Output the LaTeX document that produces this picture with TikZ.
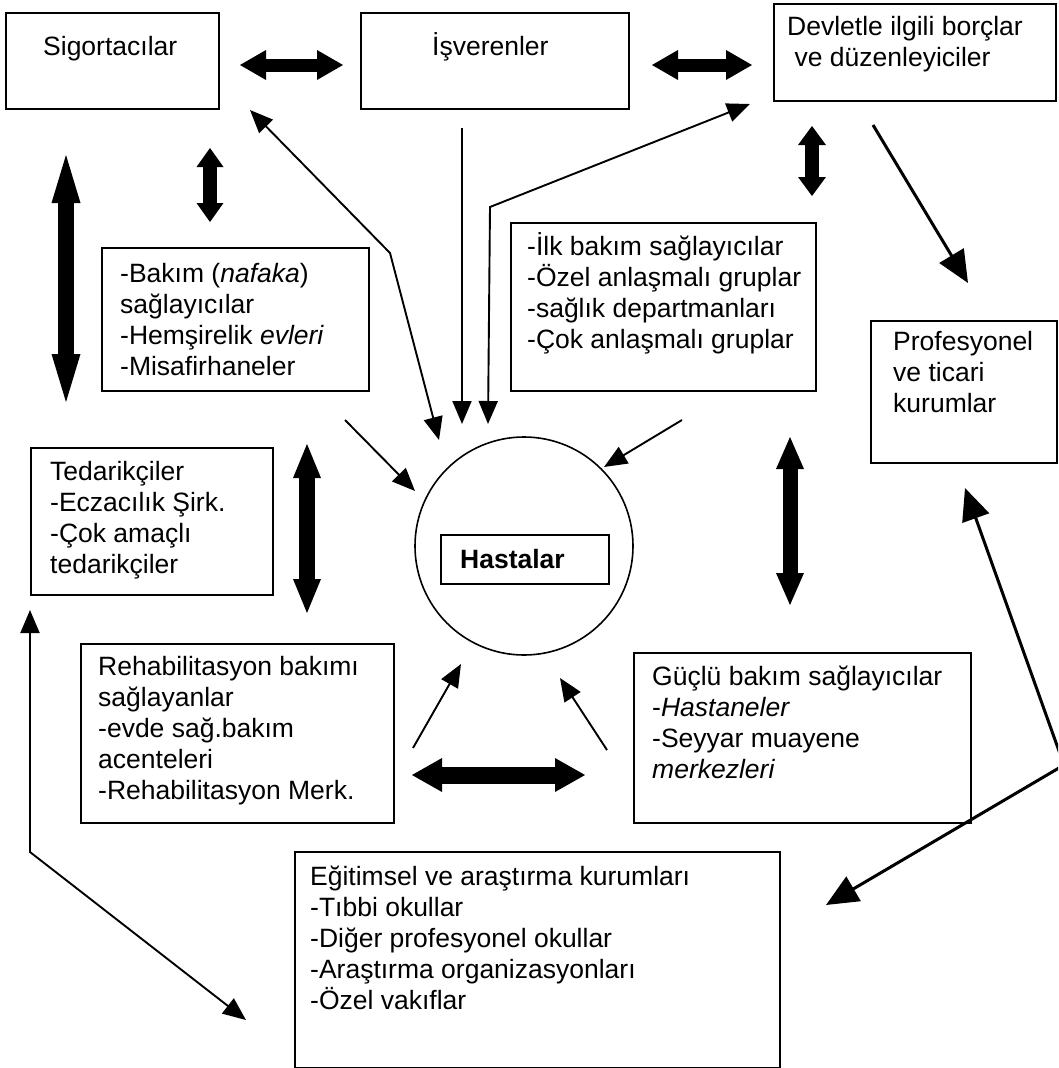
\documentclass[tikz,border=0pt]{standalone}
\usepackage{fontspec}
\setmainfont{Liberation Sans}
\usetikzlibrary{arrows.meta,calc}
% strut that fixes the first baseline 25pt below the top of a text block
\newcommand\firstline{\rule{0pt}{25pt}}
\begin{document}
\begin{tikzpicture}[x=1pt,y=-1pt,
  box/.style={draw, line width=1.7pt, anchor=north west, inner sep=0pt},
  txt/.style={anchor=north west, inner sep=0pt, align=left,
              font=\fontsize{26.5}{31}\selectfont},
  % thick two-headed block arrow: shaft width, head length, head width
  block/.style n args={3}{line width=#1,
      arrows={Triangle[length=#2,width=#3,line width=0pt]-Triangle[length=#2,width=#3,line width=0pt]}},
  thin/.style={line width=1.9pt, -{Triangle[length=23pt,width=19pt]}},
  thinboth/.style={line width=1.9pt,
      {Triangle[length=23pt,width=19pt]}-{Triangle[length=23pt,width=19pt]}},
  heavy/.style={line width=3pt, -{Triangle[length=32pt,width=28pt]}},
  heavyboth/.style={line width=3pt,
      {Triangle[length=32pt,width=28pt]}-{Triangle[length=32pt,width=28pt]}},
]
\useasboundingbox (0,0) rectangle (1058,1068);
\clip (0,0) rectangle (1058,1068);

% ---- boxes ----
\node[box, minimum width=213pt, minimum height=96pt]  (sig)  at (5,12)    {};
\node[box, minimum width=268pt, minimum height=96pt]  (isv)  at (360,12)  {};
\node[box, minimum width=282pt, minimum height=97pt]  (dev)  at (773,3)   {};
\node[box, minimum width=267pt, minimum height=143pt] (bak)  at (101,247) {};
\node[box, minimum width=305pt, minimum height=168pt] (ilk)  at (510,222) {};
\node[box, minimum width=186pt, minimum height=142pt] (prof) at (870,320) {};
\node[box, minimum width=242pt, minimum height=147pt] (ted)  at (30,447)  {};
\node[box, minimum width=313pt, minimum height=179pt] (reh)  at (80,643)  {};
\node[box, minimum width=337pt, minimum height=170pt] (guc)  at (633,652) {};
\node[box, minimum width=485pt, minimum height=216pt] (egi)  at (294,851) {};

% ---- patients in the centre ----
\node[draw, circle, line width=1.6pt, minimum size=218pt, inner sep=0pt] (pat) at (524,546) {};
\node[box, minimum width=168pt, minimum height=49pt] (has) at (440,534) {};

% ---- texts ----
\node[txt] (tsig)  at (43,30)   {\firstline Sigortacılar};
\node[txt] (tisv)  at (432,30)  {\firstline İşverenler};
\node[txt] (tdev)  at (787,10)  {\firstline Devletle ilgili borçlar\\\hspace*{0.28em}ve düzenleyiciler};
\node[txt] (tbak)  at (120,257) {\firstline -Bakım (\textit{nafaka})\\sağlayıcılar\\-Hemşirelik \textit{evleri}\\-Misafirhaneler};
\node[txt] (tilk)  at (527,230) {\firstline -İlk bakım sağlayıcılar\\-Özel anlaşmalı gruplar\\-sağlık departmanları\\-Çok anlaşmalı gruplar};
\node[txt] (tprof) at (893,325) {\firstline Profesyonel\\ve ticari\\kurumlar};
\node[txt] (tted)  at (50,455)  {\firstline Tedarikçiler\\-Eczacılık Şirk.\\-Çok amaçlı\\tedarikçiler};
\node[txt] (treh)  at (98,650)  {\firstline Rehabilitasyon bakımı\\sağlayanlar\\-evde sağ.bakım\\acenteleri\\-Rehabilitasyon Merk.};
\node[txt] (tguc)  at (652,660) {\firstline Güçlü bakım sağlayıcılar\\-\textit{Hastaneler}\\-Seyyar muayene\\\textit{merkezleri}};
\node[txt] (tegi)  at (310,860) {\firstline Eğitimsel ve araştırma kurumları\\-Tıbbi okullar\\-Diğer profesyonel okullar\\-Araştırma organizasyonları\\-Özel vakıflar};
\node[txt, font=\fontsize{26.5}{31}\selectfont\bfseries] (thas) at (460,543) {\firstline Hastalar};

% ---- connector end points ----
\coordinate (a1l) at (240,65);   \coordinate (a1r) at (343,65);
\coordinate (a2l) at (652,65);   \coordinate (a2r) at (752,65);
\coordinate (a3t) at (66,155);   \coordinate (a3b) at (66,402);
\coordinate (a4t) at (210,148);  \coordinate (a4b) at (210,222);
\coordinate (a5t) at (812,126);  \coordinate (a5b) at (812,196);
\coordinate (a6t) at (307,444);  \coordinate (a6b) at (307,613);
\coordinate (a7t) at (790,437);  \coordinate (a7b) at (790,605);
\coordinate (a8l) at (412,775);  \coordinate (a8r) at (585,775);

\coordinate (s1) at (250,110);  \coordinate (s1m) at (390,253); \coordinate (s1e) at (439,440);
\coordinate (e1) at (462,128);  \coordinate (e1e) at (462,424);
\coordinate (g1) at (750,104);  \coordinate (g1m) at (490,207); \coordinate (g1e) at (488,424);
\coordinate (d1) at (873,125);  \coordinate (d1e) at (968,283);
\coordinate (p1) at (965,488);  \coordinate (p1m) at (1064,765); \coordinate (p1e) at (826,905);
\coordinate (t1) at (30,610);   \coordinate (t1m) at (30,852);   \coordinate (t1e) at (246,1020);
\coordinate (n1) at (345,420);  \coordinate (n1e) at (415,491);
\coordinate (i1) at (682,420);  \coordinate (i1e) at (604,467);
\coordinate (r1) at (413,748);  \coordinate (r1e) at (461,664);
\coordinate (h1) at (607,750);  \coordinate (h1e) at (560,678);

% ---- two-headed block arrows ----
\draw[block={13pt}{26pt}{30pt}] (a1l) -- (a1r);
\draw[block={13pt}{26pt}{30pt}] (a2l) -- (a2r);
\draw[block={16pt}{48pt}{29pt}] (a3t) -- (a3b);
\draw[block={14pt}{19pt}{27pt}] (a4t) -- (a4b);
\draw[block={14pt}{19pt}{28pt}] (a5t) -- (a5b);
\draw[block={16pt}{34pt}{28pt}] (a6t) -- (a6b);
\draw[block={15pt}{32pt}{28pt}] (a7t) -- (a7b);
\draw[block={17pt}{30pt}{34pt}] (a8l) -- (a8r);

% ---- line arrows ----
\draw[thinboth] (s1) -- (s1m) -- (s1e);
\draw[thin] (e1) -- (e1e);
\draw[thinboth] (g1) -- (g1m) -- (g1e);
\draw[heavy] (d1) -- (d1e);
\draw[heavyboth] (p1) -- (p1m) -- (p1e);
\draw[thinboth] (t1) -- (t1m) -- (t1e);
\draw[thin] (n1) -- (n1e);
\draw[thin] (i1) -- (i1e);
\draw[thin] (r1) -- (r1e);
\draw[thin] (h1) -- (h1e);
\end{tikzpicture}
\end{document}
